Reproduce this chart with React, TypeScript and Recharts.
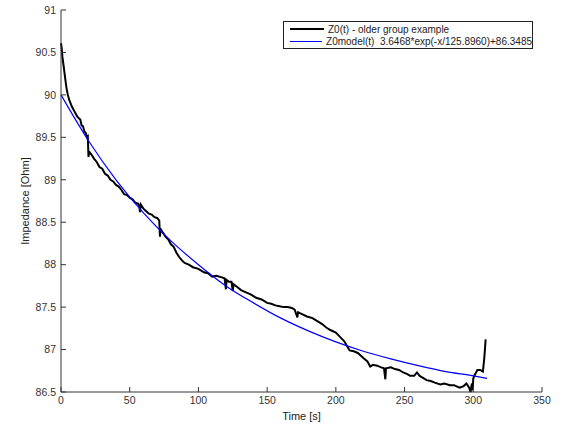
import React from 'react';
import { LineChart, Line, XAxis, YAxis, Legend } from 'recharts';

const measTime = [
  0, 0.5, 1, 2, 3, 4, 5, 6, 8, 10, 12, 14, 15, 16, 17, 18, 19, 19.5, 20, 20.5,
  22, 24, 26, 28, 30, 32, 34, 36, 38, 40, 42, 44, 46, 48, 50, 52, 54, 56, 57, 57.5,
  58, 60, 62, 64, 66, 68, 70, 71.5, 72, 72.5, 74, 76, 78, 80, 82, 84, 86, 88, 90, 93,
  96, 100, 104, 107, 110, 113, 117, 119, 120, 120.5, 122, 124, 125, 125.5, 128, 131, 135, 138, 142, 146,
  150, 153, 156, 159, 162, 165, 168, 170, 172, 172.5, 175, 179, 183, 188, 190, 193, 196, 200, 203, 206,
  210, 213, 216, 220, 223, 225, 227, 230, 233, 235, 236, 236.5, 240, 243, 246, 249, 252, 254, 257, 259,
  261, 264, 266, 269, 272, 276, 279, 283, 286, 290, 293, 295, 297, 298, 299, 299.5, 300, 301, 303, 305,
  307, 308, 309,
];
const measZ = [
  90.61, 90.55, 90.45, 90.33, 90.2, 90.08, 90.0, 89.94, 89.86, 89.8, 89.74, 89.71, 89.64, 89.63, 89.57, 89.55, 89.5, 89.51, 89.27, 89.33,
  89.3, 89.25, 89.21, 89.15, 89.13, 89.07, 89.05, 89.0, 88.98, 88.94, 88.92, 88.88, 88.83, 88.82, 88.79, 88.77, 88.73, 88.72, 88.69, 88.62,
  88.71, 88.66, 88.63, 88.6, 88.59, 88.56, 88.55, 88.52, 88.33, 88.42, 88.38, 88.33, 88.3, 88.24, 88.21, 88.14, 88.09, 88.05, 88.02, 88.0,
  87.97, 87.95, 87.91, 87.9, 87.86, 87.87, 87.85, 87.84, 87.71, 87.82, 87.8, 87.8, 87.69, 87.77, 87.74, 87.7, 87.67, 87.65, 87.61, 87.59,
  87.55, 87.54, 87.52, 87.51, 87.5, 87.5, 87.49, 87.47, 87.38, 87.44, 87.42, 87.39, 87.37, 87.32, 87.3, 87.26, 87.23, 87.2, 87.15, 87.1,
  86.99, 86.98, 86.96, 86.9, 86.86, 86.8, 86.82, 86.81, 86.79, 86.78, 86.65, 86.78, 86.79, 86.77, 86.76, 86.73, 86.71, 86.69, 86.69, 86.73,
  86.69, 86.66, 86.64, 86.63, 86.61, 86.59, 86.6, 86.58, 86.58, 86.55, 86.57, 86.6, 86.55, 86.5, 86.6, 86.52, 86.66, 86.7, 86.76, 86.76,
  86.74, 86.9, 87.12,
];

// fitted model curve
const modelTime = [0, 20, 40, 60, 80, 100, 120, 140, 160, 180, 200, 220, 240, 260, 280, 300, 310];
const modelZ = [90.0, 89.46, 89.0, 88.61, 88.28, 88.0, 87.75, 87.55, 87.37, 87.22, 87.09, 86.98, 86.89, 86.81, 86.74, 86.69, 86.66];

const xTicks = [0, 50, 100, 150, 200, 250, 300, 350];
const yTicks = [86.5, 87, 87.5, 88, 88.5, 89, 89.5, 90, 90.5, 91];

const measData = measTime.map((t, i) => ({ t, z: measZ[i] }));
const modelData = modelTime.map((t, i) => ({ t, z: modelZ[i] }));

const FONT = 'Liberation Sans, Arial, sans-serif';
const AXIS = '#333';

const LegendBox = (props: any) => {
  const { payload } = props;
  return (
    <div style={{ width: 248, height: 25, border: '1px solid #222', background: '#fff', fontFamily: FONT, fontSize: 10, color: '#222', paddingTop: 1 }}>
      {payload.map((p: any) => (
        <div key={p.value} style={{ display: 'flex', alignItems: 'center', height: 12 }}>
          <span style={{ display: 'inline-block', marginLeft: 6, width: 34, height: 0, borderTop: `${p.payload.strokeWidth}px solid ${p.payload.stroke}` }} />
          <span style={{ marginLeft: 4, whiteSpace: 'pre' }}>{p.value}</span>
        </div>
      ))}
    </div>
  );
};

export default function App() {
  return (
    <div style={{ position: 'absolute', left: 0, top: 0, width: 563, height: 428, background: '#fff' }}>
      <LineChart width={563} height={428} margin={{ top: 10, right: 21, bottom: 0, left: 0 }}>
        <XAxis
          xAxisId="b" dataKey="t" type="number" domain={[0, 350]} ticks={xTicks}
          height={36} tickSize={-5} tickMargin={10} stroke={AXIS}
          tick={{ fontSize: 10.5, fill: '#333', fontFamily: FONT }}
          label={{ value: 'Time [s]', position: 'insideBottom', offset: 8, fontSize: 11, fill: '#222', fontFamily: FONT }}
        />
        <XAxis
          xAxisId="t" orientation="top" dataKey="t" type="number" domain={[0, 350]} ticks={xTicks}
          height={0} tickSize={-5} tick={false} stroke={AXIS}
        />
        <YAxis
          yAxisId="l" type="number" domain={[86.5, 91]} ticks={yTicks}
          width={61} tickSize={-5} tickMargin={10} stroke={AXIS}
          tick={{ fontSize: 10.5, fill: '#333', fontFamily: FONT }}
          label={{ value: 'Impedance [Ohm]', angle: -90, position: 'insideLeft', offset: 25, fontSize: 11, fill: '#222', fontFamily: FONT, style: { textAnchor: 'middle' } }}
        />
        <YAxis
          yAxisId="r" orientation="right" type="number" domain={[86.5, 91]} ticks={yTicks}
          width={0} tickSize={-5} tick={false} stroke={AXIS}
        />
        <Legend
          content={<LegendBox />}
          layout="vertical" verticalAlign="middle" align="center"
          wrapperStyle={{ position: 'absolute', left: 283, top: 21, width: 250 }}
        />
        <Line
          xAxisId="b" yAxisId="l" data={measData} dataKey="z" name="Z0(t) - older group example"
          type="linear" stroke="#000" strokeWidth={2} dot={false} isAnimationActive={false}
        />
        <Line
          xAxisId="b" yAxisId="l" data={modelData} dataKey="z" name="Z0model(t)  3.6468*exp(-x/125.8960)+86.3485"
          type="monotone" stroke="#0000ff" strokeWidth={1.2} dot={false} isAnimationActive={false}
        />
      </LineChart>
    </div>
  );
}
